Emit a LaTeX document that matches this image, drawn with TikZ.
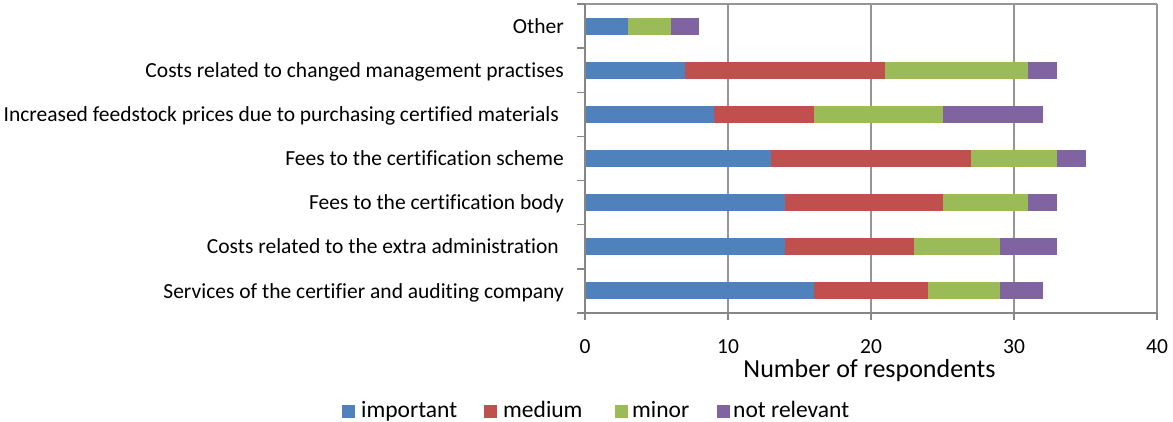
\documentclass[tikz,border=0pt]{standalone}
\usepackage{fontspec}
\setmainfont{Carlito}[Ligatures=NoCommon]
\definecolor{cimp}{HTML}{4F81BD}
\definecolor{cmed}{HTML}{C0504D}
\definecolor{cmin}{HTML}{9BBB59}
\definecolor{cnot}{HTML}{8064A2}
\definecolor{gridc}{HTML}{969696}
\definecolor{axisc}{HTML}{868686}
\begin{document}
\begin{tikzpicture}[x=1pt,y=-1pt,
  catlbl/.style={anchor=base east,inner sep=0pt,font=\fontsize{21.5}{25}\selectfont},
  numlbl/.style={anchor=base,inner sep=0pt,font=\fontsize{21.5}{25}\selectfont},
  titlbl/.style={anchor=base,inner sep=0pt,font=\fontsize{26}{30}\selectfont},
  leglbl/.style={anchor=base west,inner sep=0pt,font=\fontsize{23.5}{27}\selectfont},
  gridln/.style={draw=gridc,line width=1.5pt},
  axisln/.style={draw=axisc,line width=1.5pt},
  legbox/.style={minimum width=13pt,minimum height=13pt,inner sep=0pt}]
\useasboundingbox (0,0) rectangle (1173,421);
% plot frame & gridlines
\def\xz{585}\def\sc{14.3}
\foreach \v in {10,20,30,40}{
  \draw[gridln] ({\xz+\v*\sc},4) -- ({\xz+\v*\sc},313);
  \draw[axisln] ({\xz+\v*\sc},313) -- ({\xz+\v*\sc},320);
}
\draw[gridln] (\xz,4) -- (1157,4);
% bars
\foreach \i/\a/\b/\c/\d in {0/3/3/6/8, 1/7/21/31/33, 2/9/16/25/32, 3/13/27/33/35, 4/14/25/31/33, 5/14/23/29/33, 6/16/24/29/32}{
  \pgfmathsetmacro\yc{4+44.14*(\i+0.5)}
  \fill[cimp] (\xz,\yc-8.5) rectangle ({\xz+\a*\sc},\yc+8.5);
  \fill[cmed] ({\xz+\a*\sc},\yc-8.5) rectangle ({\xz+\b*\sc},\yc+8.5);
  \fill[cmin] ({\xz+\b*\sc},\yc-8.5) rectangle ({\xz+\c*\sc},\yc+8.5);
  \fill[cnot] ({\xz+\c*\sc},\yc-8.5) rectangle ({\xz+\d*\sc},\yc+8.5);
}
% axes
\draw[axisln] (\xz,4) -- (\xz,313) -- (1157,313);
\draw[axisln] (\xz,313) -- (\xz,320);
\foreach \i in {0,...,7}{
  \draw[axisln] (577,{4+44.14*\i}) -- (\xz,{4+44.14*\i});
}
% category labels
\node[catlbl] (c0) at (564,33) {Other};
\node[catlbl] (c1) at (564,77) {Costs related to changed management practises};
\node[catlbl] (c2) at (559,121.5) {Increased feedstock prices due to purchasing certified materials};
\node[catlbl] (c3) at (564,165.5) {Fees to the certification scheme};
\node[catlbl] (c4) at (564,209.5) {Fees to the certification body};
\node[catlbl] (c5) at (559,253.5) {Costs related to the extra administration};
\node[catlbl] (c6) at (564,298) {Services of the certifier and auditing company};
% x labels
\foreach \v in {0,10,20,30,40}{
  \node[numlbl] (x\v) at ({\xz+\v*\sc},353) {\v};
}
\node[titlbl] (xt) at (869.5,377) {Number of respondents};
% legend
\node[legbox,fill=cimp] (l1) at (348.5,411) {};
\node[leglbl] (t1) at (361,417) {important};
\node[legbox,fill=cmed] (l2) at (490,411) {};
\node[leglbl] (t2) at (503,417) {medium};
\node[legbox,fill=cmin] (l3) at (621,411) {};
\node[leglbl] (t3) at (632,417) {minor};
\node[legbox,fill=cnot] (l4) at (723.5,411) {};
\node[leglbl] (t4) at (733,417) {not relevant};
\end{tikzpicture}
\end{document}
